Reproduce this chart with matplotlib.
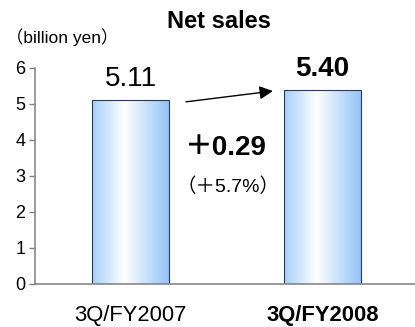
import numpy as np
import matplotlib
matplotlib.use("Agg")
import matplotlib.pyplot as plt
from matplotlib.colors import LinearSegmentedColormap

# data
periods = ["3Q/FY2007", "3Q/FY2008"]
sales = [5.11, 5.40]
value_labels = ["5.11", "5.40"]
diff_label = "＋0.29"
pct_label = "（＋5.7%）"
yticks = [0, 1, 2, 3, 4, 5, 6]

fam = ["Liberation Sans", "Noto Sans CJK JP", "DejaVu Sans"]
plt.rcParams["font.family"] = fam

fig = plt.figure(figsize=(4.15, 3.27), dpi=100)
ax = fig.add_axes([35 / 415, 43 / 327, 380 / 415, 216 / 327])

x = np.arange(len(periods))
width = 0.40
bars = ax.bar(x, sales, width, color="none", edgecolor="#2b3a55", linewidth=0.8, zorder=3)

# horizontal gradient inside each bar
cmap = LinearSegmentedColormap.from_list(
    "grad", [(0, "#a6cffa"), (0.42, "#ffffff"), (1, "#94c4f7")])
grad = np.linspace(0, 1, 256).reshape(1, -1)
for b in bars:
    x0, y0 = b.get_x(), b.get_y()
    im = ax.imshow(grad, cmap=cmap, aspect="auto", zorder=2,
                   extent=[x0, x0 + b.get_width(), y0, y0 + b.get_height()])
    im.set_clip_path(b)

ax.set_xlim(-0.497, 1.482)
ax.set_ylim(0, 6)
ax.set_yticks(yticks)
ax.set_yticklabels([str(t) for t in yticks], fontsize=13)
ax.set_xticks(x)
ax.set_xticklabels(periods, fontsize=15.8)
ax.get_xticklabels()[1].set_fontweight("bold")
ax.tick_params(axis="x", length=0, pad=15)
ax.tick_params(axis="y", length=4, width=1, color="#808080", pad=3)

for s in ["top", "right"]:
    ax.spines[s].set_visible(False)
for s in ["left", "bottom"]:
    ax.spines[s].set_color("#808080")
    ax.spines[s].set_linewidth(1.1)
ax.spines["bottom"].set_zorder(4)

# value labels
ax.annotate(value_labels[0], (x[0], sales[0]), xytext=(0, 15), textcoords="offset points",
            ha="center", va="center", fontsize=20)
ax.annotate(value_labels[1], (x[1], sales[1]), xytext=(0, 15), textcoords="offset points",
            ha="center", va="center", fontsize=20, fontweight="bold")

# arrow between bars
ax.annotate("", xy=(0.742, sales[1] - 0.04), xytext=(0.289, sales[0] - 0.05),
            arrowprops=dict(arrowstyle="-|>", color="black", lw=1.0, mutation_scale=20,
                            shrinkA=0, shrinkB=0))

ax.text(0.495, 3.79, diff_label, ha="center", va="center", fontsize=20, fontweight="bold")
ax.text(0.508, 2.71, pct_label, ha="center", va="center", fontsize=14)

fig.text(219 / 415, 1 - 22 / 327, "Net sales", ha="center", va="center",
         fontsize=17, fontweight="bold")
fig.text(6 / 415, 1 - 37 / 327, "（billion yen）", ha="left", va="center", fontsize=12.5)

fig.savefig("out.png", dpi=100)
